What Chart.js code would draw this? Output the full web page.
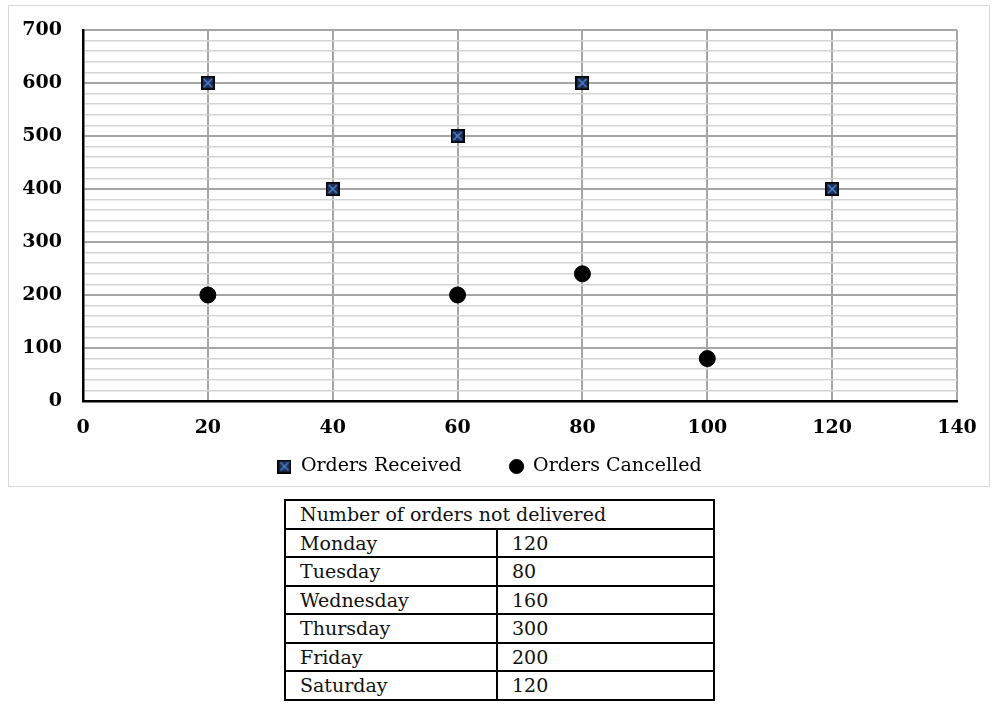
<!DOCTYPE html>
<html>
<head>
<meta charset="utf-8">
<script src="https://cdn.jsdelivr.net/npm/chart.js@4.4.0/dist/chart.umd.min.js"></script>
<style>
  body { margin: 0; background: #fff; width: 1000px; height: 715px; position: relative; font-family: "DejaVu Serif", serif; }
  #box { position: absolute; left: 8px; top: 5px; width: 980px; height: 480px; border: 1px solid #d9d9d9; }
  #tbl { position: absolute; left: 284px; top: 499px; width: 431px; border-collapse: collapse; border: 2px solid #000; }
  #tbl td { border: 2px solid #000; height: 26.5px; padding: 0 0 0 14px; font-size: 19px; line-height: 22px; color: #111; }
</style>
</head>
<body>
<div id="box"><canvas id="chart"></canvas></div>
<table id="tbl"></table>
<script>
const receivedX = [20, 40, 60, 80, 120];
const receivedY = [600, 400, 500, 600, 400];
const cancelledX = [20, 60, 80, 100];
const cancelledY = [200, 200, 240, 80];
const days = ["Monday", "Tuesday", "Wednesday", "Thursday", "Friday", "Saturday"];
const notDelivered = [120, 80, 160, 300, 200, 120];

// table
const tbl = document.getElementById("tbl");
tbl.innerHTML = '<tr><td colspan="2">Number of orders not delivered</td></tr>' +
  days.map((d, i) => '<tr><td style="width:196px">' + d + '</td><td>' + notDelivered[i] + '</td></tr>').join("");

// square marker with a blue cross
function squareX(size) {
  const c = document.createElement("canvas");
  c.width = size; c.height = size;
  const g = c.getContext("2d");
  g.fillStyle = "#1f2d4d";
  g.fillRect(0, 0, size, size);
  g.strokeStyle = "#000";
  g.lineWidth = 1.5;
  g.strokeRect(0.75, 0.75, size - 1.5, size - 1.5);
  g.strokeStyle = "#4a7fd6";
  g.lineWidth = 1.6;
  g.beginPath();
  g.moveTo(3, 3); g.lineTo(size - 3, size - 3);
  g.moveTo(size - 3, 3); g.lineTo(3, size - 3);
  g.stroke();
  return c;
}
const sq = squareX(14);

const cv = document.getElementById("chart");
cv.width = 980; cv.height = 480;

// x labels sit below a very short x box (legend is close), so don't clip them
const noLabelClip = {
  id: "noLabelClip",
  beforeDraw(chart) { chart.scales.x._computeLabelArea = () => undefined; }
};

new Chart(cv, {
  type: "scatter",
  data: {
    datasets: [
      {
        label: "Orders Received",
        data: receivedX.map((x, i) => ({ x: x, y: receivedY[i] })),
        pointStyle: sq,
        pointRadius: 7,
        pointHoverRadius: 7
      },
      {
        label: "Orders Cancelled",
        data: cancelledX.map((x, i) => ({ x: x, y: cancelledY[i] })),
        pointStyle: "circle",
        pointRadius: 8,
        pointHoverRadius: 8,
        backgroundColor: "#000",
        borderColor: "#000"
      }
    ]
  },
  plugins: [noLabelClip],
  options: {
    responsive: false,
    animation: false,
    layout: { padding: { left: 13, right: 32, top: 24, bottom: 0 } },
    plugins: {
      tooltip: { enabled: false },
      legend: {
        position: "bottom",
        labels: {
          usePointStyle: true,
          color: "#000",
          font: { family: "DejaVu Serif", size: 19 },
          padding: 48,
          boxWidth: 14,
          boxHeight: 10
        }
      }
    },
    scales: {
      x: {
        min: 0, max: 140,
        afterFit: s => { s.height = 8; s.paddingLeft = 0; s.paddingRight = 0; },
        ticks: { stepSize: 20, color: "#000", font: { family: "DejaVu Serif", size: 19, weight: "bold" }, padding: 16 },
        grid: { color: "#a6a6a6", lineWidth: 2, drawTicks: false },
        border: { color: "#000", width: 2.5 }
      },
      y: {
        min: 0, max: 700,
        z: -1,
        afterFit: s => { s.width = 61; s.paddingTop = 0; s.paddingBottom = 0; },
        ticks: {
          stepSize: 20, autoSkip: false, color: "#000",
          font: { family: "DejaVu Serif", size: 19, weight: "bold" },
          padding: 21,
          callback: v => (v % 100 === 0 ? v : "")
        },
        grid: {
          drawTicks: false,
          color: c => (c.tick.value % 100 === 0 ? "#a6a6a6" : "#d4d4d4"),
          lineWidth: c => (c.tick.value % 100 === 0 ? 2 : 1.5)
        },
        border: { color: "#000", width: 2.5 }
      }
    }
  }
});
</script>
</body>
</html>
